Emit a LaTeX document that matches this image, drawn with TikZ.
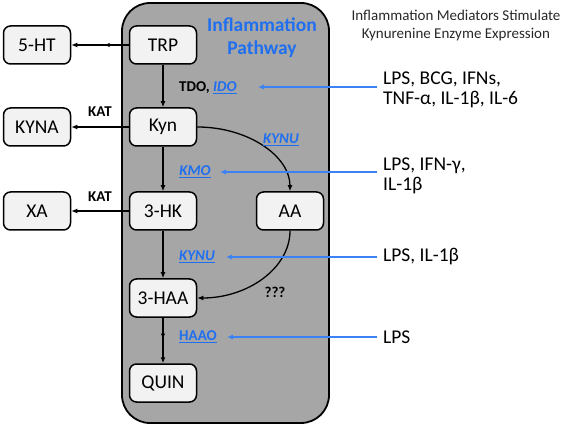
\documentclass[tikz,border=0pt]{standalone}
\usepackage{fontspec}
\setmainfont{Carlito}
\usetikzlibrary{arrows.meta,decorations.markings}
\definecolor{panelgray}{RGB}{166,166,166}
\definecolor{boxfill}{RGB}{242,242,242}
\definecolor{ptblue}{RGB}{31,111,240}
\definecolor{arrblue}{RGB}{60,130,245}
\definecolor{hdrgray}{RGB}{40,40,40}
\tikzset{
 box/.style={draw=black, line width=1.5pt, rounded corners=7pt, fill=boxfill, minimum width=67pt, minimum height=38pt, inner sep=0pt, font=\fontsize{19.5}{22}\selectfont},
 conn/.style={line width=1.3pt, -{Latex[length=6pt,width=5pt]}},
 midarrow/.style={postaction={decorate}, decoration={markings, mark=at position #1 with {\arrow{Latex[length=5pt,width=4.5pt]}}}},
 enz/.style={font=\fontsize{15}{18}\selectfont\bfseries, inner sep=0pt},
 benz/.style={inner sep=0pt, text=ptblue, font=\fontsize{15}{18}\selectfont\bfseries\itshape},
 barrow/.style={draw=arrblue, line width=1.1pt, -{Latex[length=6pt,width=5pt]}},
 med/.style={font=\fontsize{19.5}{20}\selectfont, align=left, anchor=west, inner sep=0pt},
}
\begin{document}
\begin{tikzpicture}[x=1pt,y=-1pt]
\useasboundingbox (0,0) rectangle (567,427);
% panel
\draw[line width=1.8pt, fill=panelgray, rounded corners=28pt] (122,3) rectangle (329,423);
\node[inner sep=0pt, align=center, text=ptblue, font=\fontsize{19.5}{23}\selectfont\bfseries] (title) at (262,38) {Inflammation\\Pathway};
\node[inner sep=0pt, align=center, text=hdrgray, font=\fontsize{15}{18}\selectfont] (hdr) at (456,26) {Inflammation Mediators Stimulate\\Kynurenine Enzyme Expression};
% boxes
\node[box] (ht) at (37,45) {5-HT};
\node[box] (trp) at (163,45) {TRP};
\node[box] (kyna) at (37,127) {KYNA};
\node[box] (kyn) at (163,127) {Kyn};
\node[box] (xa) at (37,211) {XA};
\node[box] (hk) at (163,211) {3-HK};
\node[box] (aa) at (290,211) {AA};
\node[box] (haa) at (163,298) {3-HAA};
\node[box] (quin) at (163,383) {QUIN};
% black connectors
\draw[conn, midarrow=0.42] (trp.west) -- (ht.east);
\draw[conn] (trp.south) -- (kyn.north);
\draw[conn] (kyn.west) -- (kyna.east);
\draw[conn] (kyn.south) -- (hk.north);
\draw[conn] (hk.west) -- (xa.east);
\draw[conn] (hk.south) -- (haa.north);
\draw[conn, midarrow=0.46] (haa.south) -- (quin.north);
\draw[conn] (kyn.east) .. controls (248,127) and (290,156) .. (aa.north);
\draw[conn] (aa.south) .. controls (290,268) and (248,298) .. (haa.east);
% enzyme labels
\node[enz] (kat1) at (100,112) {KAT};
\node[enz] (kat2) at (100,197) {KAT};
\node[enz, anchor=west] (tdo) at (179,88) {TDO, \textcolor{ptblue}{\itshape\underline{IDO}}};
\node[benz] (kynu1) at (281,140) {\underline{KYNU}};
\node[benz] (kmo) at (195,172) {\underline{KMO}};
\node[benz] (kynu2) at (197,257) {\underline{KYNU}};
\node[benz, font=\fontsize{15}{18}\selectfont\bfseries] (haao) at (198,337) {\underline{HAAO}};
\node[enz] (qqq) at (275,292) {???};
% mediators
\node[med] (m1) at (383,90) {LPS, BCG, IFNs,\\TNF-α, IL-1β, IL-6};
\node[med] (m2) at (383,176) {LPS, IFN-γ,\\IL-1β};
\node[med] (m3) at (383,257) {LPS, IL-1β};
\node[med] (m4) at (383,337) {LPS};
% blue arrows
\coordinate (s1) at (377,87);  \coordinate (e1) at (258,87);
\coordinate (s2) at (377,172); \coordinate (e2) at (220,172);
\coordinate (s3) at (377,257); \coordinate (e3) at (226,257);
\coordinate (s4) at (377,337); \coordinate (e4) at (227,337);
\draw[barrow] (s1) -- (e1);
\draw[barrow] (s2) -- (e2);
\draw[barrow] (s3) -- (e3);
\draw[barrow] (s4) -- (e4);
\end{tikzpicture}
\end{document}
